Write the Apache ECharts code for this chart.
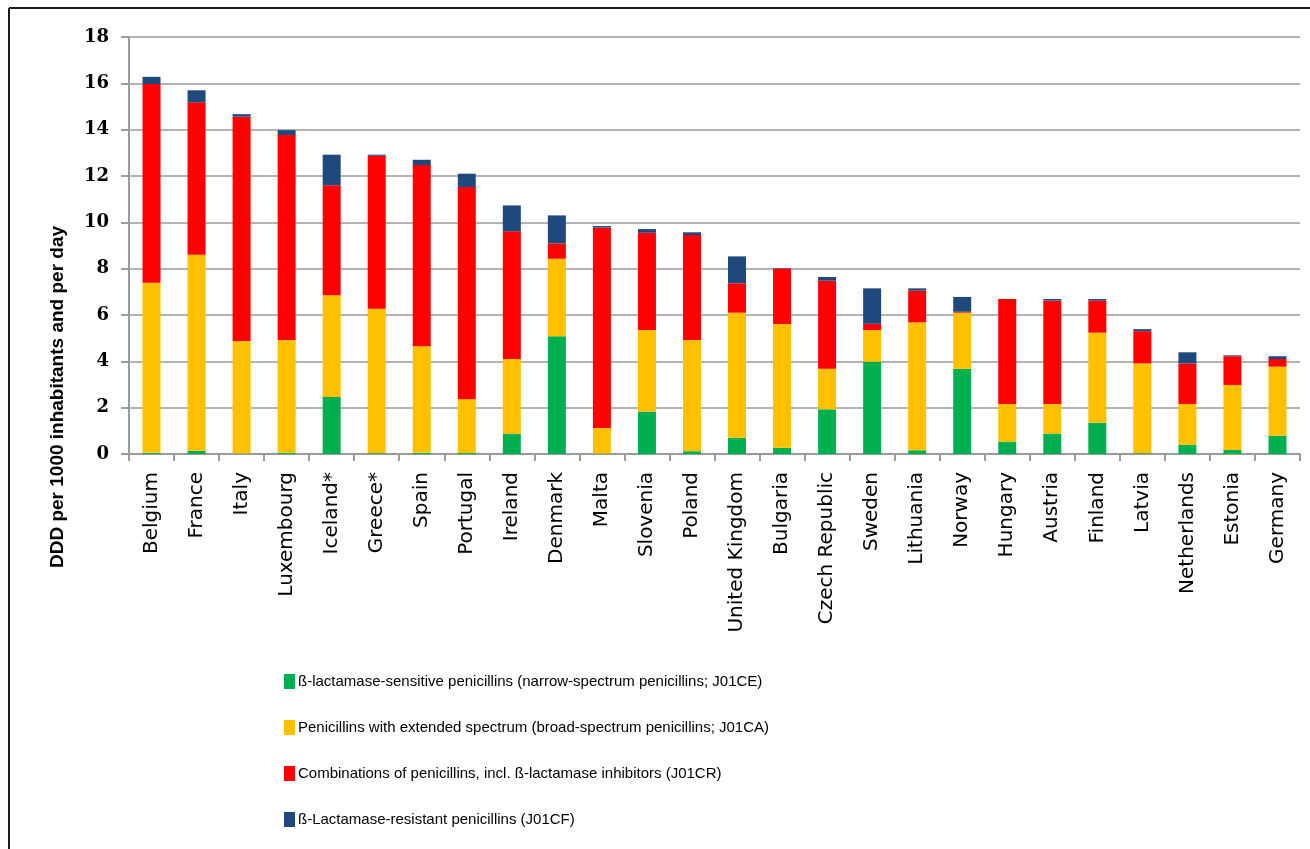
<!DOCTYPE html>
<html>
<head>
<meta charset="utf-8">
<title>Penicillins consumption</title>
<script src="https://cdn.jsdelivr.net/npm/echarts@6/dist/echarts.min.js"></script>
<style>
  html, body { margin: 0; padding: 0; background: #fff; }
  #chart { width: 1310px; height: 849px; }
</style>
</head>
<body>
<div id="chart"></div>
<script>
// countries, sorted by total
const countries = ['Belgium', 'France', 'Italy', 'Luxembourg', 'Iceland*', 'Greece*', 'Spain', 'Portugal',
  'Ireland', 'Denmark', 'Malta', 'Slovenia', 'Poland', 'United Kingdom', 'Bulgaria', 'Czech Republic',
  'Sweden', 'Lithuania', 'Norway', 'Hungary', 'Austria', 'Finland', 'Latvia', 'Netherlands', 'Estonia', 'Germany']

// DDD per 1000 inhabitants and per day
const narrowSpectrum = [0.05, 0.14, 0.02, 0.05, 2.46, 0.03, 0.05, 0.04, 0.86, 5.08, 0.02, 1.83, 0.12,
  0.70, 0.27, 1.93, 3.98, 0.16, 3.68, 0.53, 0.88, 1.35, 0.03, 0.40, 0.17, 0.79]
const broadSpectrum = [7.34, 8.46, 4.86, 4.87, 4.39, 6.24, 4.60, 2.32, 3.24, 3.35, 1.10, 3.52, 4.80,
  5.40, 5.34, 1.75, 1.37, 5.52, 2.42, 1.63, 1.28, 3.89, 3.88, 1.76, 2.81, 2.98]
const combinations = [8.58, 6.58, 9.68, 8.85, 4.75, 6.60, 7.82, 9.16, 5.51, 0.66, 8.65, 4.20, 4.53,
  1.27, 2.40, 3.80, 0.27, 1.37, 0.04, 4.53, 4.46, 1.38, 1.39, 1.75, 1.24, 0.33]
const resistant = [0.31, 0.52, 0.11, 0.21, 1.32, 0.05, 0.23, 0.58, 1.12, 1.21, 0.07, 0.16, 0.12,
  1.16, 0.02, 0.16, 1.53, 0.10, 0.64, 0.00, 0.07, 0.07, 0.09, 0.48, 0.04, 0.12]

const seriesNames = [
  'ß-lactamase-sensitive penicillins (narrow-spectrum penicillins; J01CE)',
  'Penicillins with extended spectrum (broad-spectrum penicillins; J01CA)',
  'Combinations of penicillins, incl. ß-lactamase inhibitors (J01CR)',
  'ß-Lactamase-resistant penicillins (J01CF)'
]
const yTicks = { min: 0, max: 18, interval: 2 }

const chart = echarts.init(document.getElementById('chart'))

function barSeries (name, data) {
  return {
    name: name,
    type: 'bar',
    stack: 'total',
    barWidth: 18,
    data: data
  }
}

chart.setOption({
  animation: false,
  color: ['#00b050', '#ffc000', '#ff0000', '#1f497d'],
  grid: {
    left: 129,
    right: 10,
    top: 37,
    bottom: 395
  },
  graphic: [
    // frame like the original figure
    { type: 'line', shape: { x1: 9, y1: 8, x2: 1310, y2: 8 }, style: { stroke: '#1a1a1a', lineWidth: 2 } },
    { type: 'line', shape: { x1: 9, y1: 8, x2: 9, y2: 849 }, style: { stroke: '#1a1a1a', lineWidth: 2 } },
    {
      type: 'text',
      x: 58,
      y: 397,
      rotation: Math.PI / 2,
      style: {
        text: 'DDD per 1000 inhabitants and per day',
        font: 'bold 19px "Liberation Sans", sans-serif',
        fill: '#000',
        align: 'center',
        verticalAlign: 'middle'
      }
    }
  ],
  legend: {
    orient: 'vertical',
    left: 284,
    top: 674,
    padding: 0,
    itemWidth: 11,
    itemHeight: 15,
    itemGap: 31,
    icon: 'rect',
    data: seriesNames,
    textStyle: {
      color: '#000',
      fontSize: 15,
      fontFamily: '"Liberation Sans", sans-serif',
      padding: [0, 0, 0, -2]
    }
  },
  xAxis: {
    type: 'category',
    data: countries,
    axisLine: { lineStyle: { color: '#9a9a9a', width: 2 } },
    axisTick: { show: true, length: 7, lineStyle: { color: '#9a9a9a', width: 2 } },
    axisLabel: {
      interval: 0,
      rotate: 90,
      margin: 18,
      color: '#000',
      fontSize: 20,
      fontFamily: '"DejaVu Sans", sans-serif'
    }
  },
  yAxis: {
    type: 'value',
    min: yTicks.min,
    max: yTicks.max,
    interval: yTicks.interval,
    axisLine: { show: true, lineStyle: { color: '#9a9a9a', width: 2 } },
    axisTick: { show: true, length: 8, lineStyle: { color: '#9a9a9a', width: 2 } },
    axisLabel: {
      margin: 20,
      color: '#000',
      fontSize: 18,
      fontWeight: 'bold',
      fontFamily: '"DejaVu Serif", serif'
    },
    splitLine: { lineStyle: { color: '#b3b3b3', width: 2 } }
  },
  series: [
    barSeries(seriesNames[0], narrowSpectrum),
    barSeries(seriesNames[1], broadSpectrum),
    barSeries(seriesNames[2], combinations),
    barSeries(seriesNames[3], resistant)
  ]
})
</script>
</body>
</html>
